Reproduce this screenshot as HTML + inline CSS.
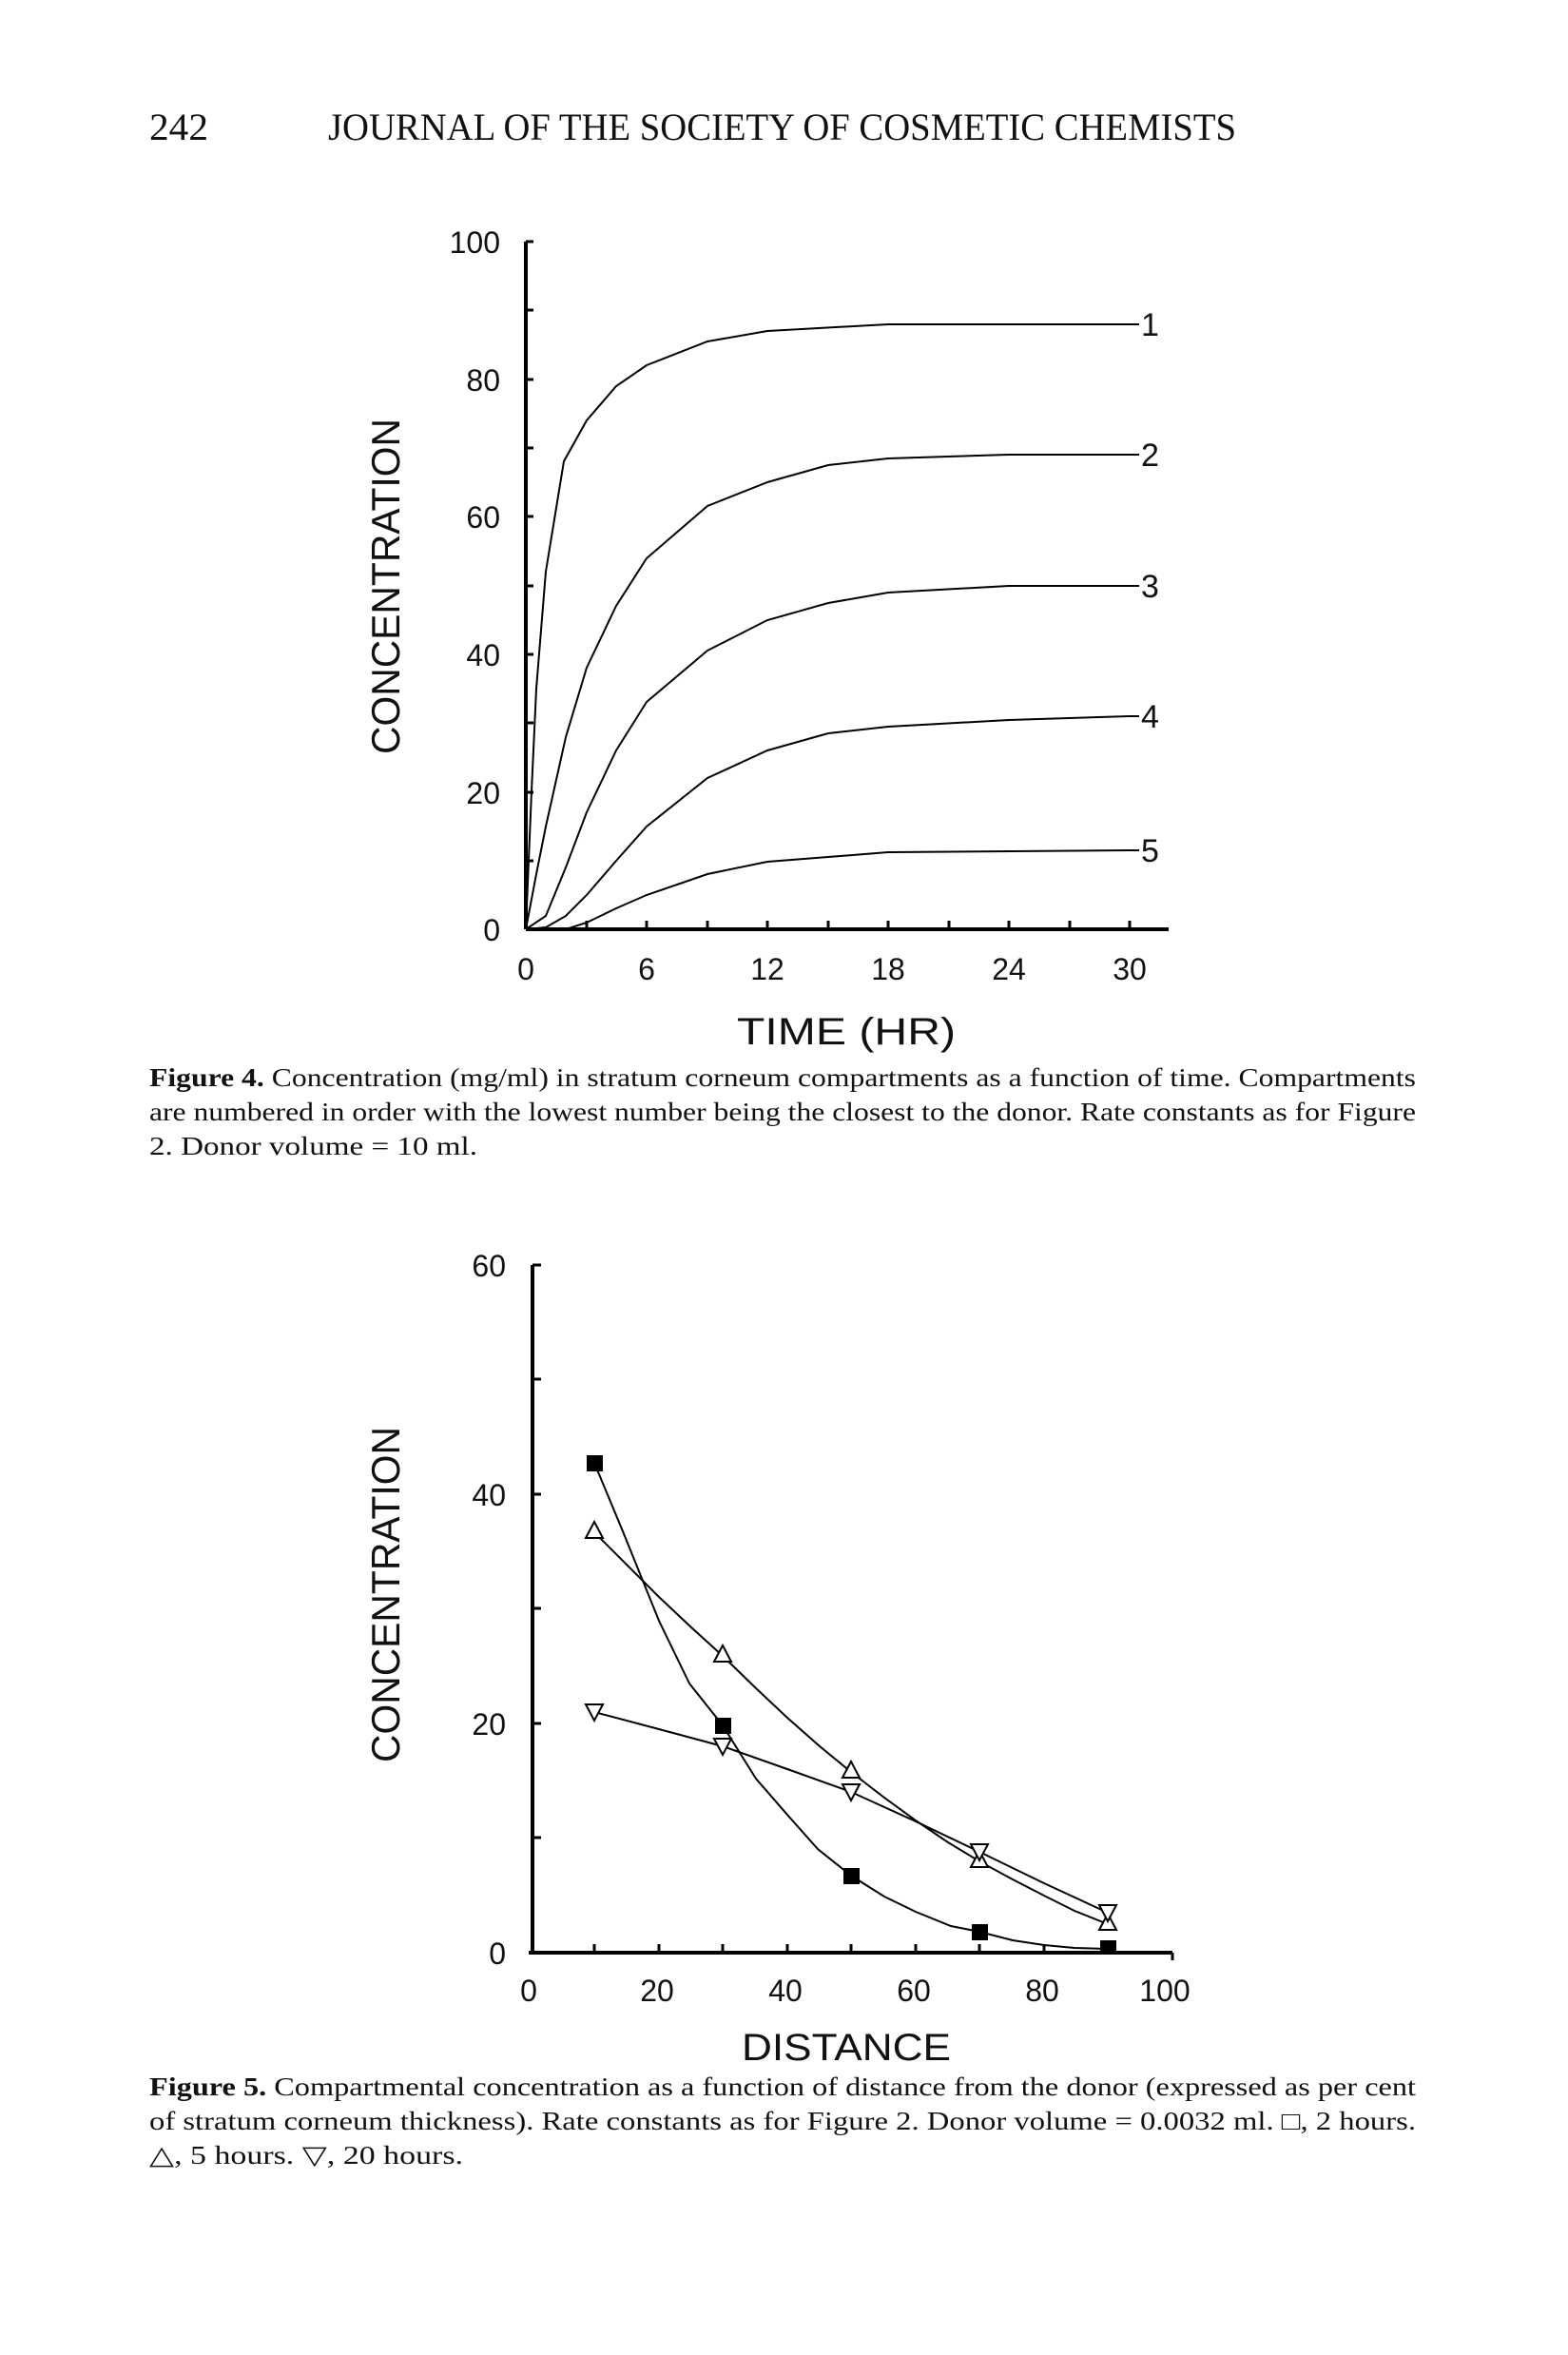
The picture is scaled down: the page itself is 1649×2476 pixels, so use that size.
<!DOCTYPE html>
<html><head><meta charset="utf-8"><style>
html,body{margin:0;padding:0;background:#fff;}
svg{display:block;}
.ser{font-family:"Liberation Serif",serif;fill:#111;}
.pl{font-family:"Liberation Sans",sans-serif;fill:#111;}
</style></head><body>
<svg width="1649" height="2476" viewBox="0 0 1649 2476" xmlns="http://www.w3.org/2000/svg">
<rect width="1649" height="2476" fill="#fff"/>
<text class="ser" x="157" y="147" font-size="40" textLength="62" lengthAdjust="spacingAndGlyphs">242</text>
<text class="ser" x="345" y="147" font-size="40" textLength="955" lengthAdjust="spacingAndGlyphs">JOURNAL OF THE SOCIETY OF COSMETIC CHEMISTS</text>

<g id="fig4" stroke="#000" fill="none">
<line x1="553" y1="254" x2="553" y2="977" stroke-width="4"/>
<line x1="553" y1="977" x2="1229" y2="977" stroke-width="4"/>
<path stroke-width="3" d="M553 254h8 M553 326h8 M553 399h8 M553 471h8 M553 543h8 M553 616h8 M553 688h8 M553 760h8 M553 833h8 M553 905h8
M617 977v-9 M680 977v-9 M744 977v-9 M807 977v-9 M871 977v-9 M934 977v-9 M998 977v-9 M1061 977v-9 M1125 977v-9 M1188 977v-9"/>
<g stroke-width="2">
<polyline points="553,977 559,832 564,724 574,601 593,485 617,442 648,406 680,384 744,359 807,348 934,341 1188,341 1198,341"/>
<polyline points="553,977 564,919 574,869 595,775 617,702 648,637 680,587 744,532 807,507 871,489 934,482 1061,478 1188,478 1198,478"/>
<polyline points="553,977 574,963 595,912 617,854 648,789 680,738 744,684 807,652 871,634 934,623 1061,616 1188,616 1198,616"/>
<polyline points="553,977 574,975 595,963 617,941 648,905 680,869 744,818 807,789 871,771 934,764 1061,757 1188,753 1198,753"/>
<polyline points="553,977 595,977 617,970 648,955 680,941 744,919 807,906 871,901 934,896 1188,894 1198,894"/>
</g>
</g>
<g class="pl" font-size="32" text-anchor="end">
<text x="526" y="266">100</text><text x="526" y="411">80</text><text x="526" y="555">60</text>
<text x="526" y="700">40</text><text x="526" y="845">20</text><text x="526" y="989">0</text>
</g>
<g class="pl" font-size="32" text-anchor="middle">
<text x="553" y="1030">0</text><text x="680" y="1030">6</text><text x="807" y="1030">12</text>
<text x="934" y="1030">18</text><text x="1061" y="1030">24</text><text x="1188" y="1030">30</text>
</g>
<g class="pl" font-size="34">
<text x="1200" y="353">1</text><text x="1200" y="490">2</text><text x="1200" y="628">3</text><text x="1200" y="765">4</text><text x="1200" y="906">5</text>
</g>
<text class="pl" x="890" y="1098" font-size="40" text-anchor="middle" textLength="230" lengthAdjust="spacingAndGlyphs">TIME (HR)</text>
<text class="pl" font-size="42" transform="translate(420,793) rotate(-90)" textLength="353" lengthAdjust="spacingAndGlyphs">CONCENTRATION</text>
<g class="ser" font-size="27">
<text x="157" y="1142" textLength="1332" lengthAdjust="spacingAndGlyphs"><tspan font-weight="bold">Figure 4.</tspan> Concentration (mg/ml) in stratum corneum compartments as a function of time. Compartments</text>
<text x="157" y="1178" textLength="1332" lengthAdjust="spacingAndGlyphs">are numbered in order with the lowest number being the closest to the donor. Rate constants as for Figure</text>
<text x="157" y="1214" textLength="345" lengthAdjust="spacingAndGlyphs">2. Donor volume = 10 ml.</text>
</g>

<g id="fig5" stroke="#000" fill="none">
<line x1="560" y1="1330" x2="560" y2="2053" stroke-width="4"/>
<line x1="556" y1="2053" x2="1233" y2="2053" stroke-width="4"/>
<path stroke-width="3" d="M560 1330h9 M560 1450h9 M560 1571h9 M560 1691h9 M560 1812h9 M560 1932h9
M625 2053v-9 M693 2053v-9 M760 2053v-9 M828 2053v-9 M895 2053v-9 M963 2053v-9 M1030 2053v-9 M1098 2053v-9 M1165 2053v-9 M1233 2053v8"/>
<g stroke-width="2">
<polyline points="625,1538 655,1610 693,1704 725,1770 760,1814 795,1870 828,1908 860,1944 895,1972 930,1994 963,2010 1000,2025 1030,2031 1065,2040 1098,2045 1130,2048 1165,2049"/>
<polyline points="625,1611 660,1646 693,1679 727,1711 760,1741 795,1775 828,1806 862,1836 895,1863 930,1890 963,1914 997,1937 1030,1957 1065,1976 1098,1993 1130,2009 1165,2023"/>
<polyline points="625,1800 693,1818 760,1836 828,1860 895,1884 963,1915 1030,1947 1098,1980 1165,2011"/>
</g>
</g>
<g fill="#000">
<rect x="617" y="1530" width="17" height="17"/>
<rect x="752" y="1806" width="17" height="17"/>
<rect x="887" y="1964" width="17" height="17"/>
<rect x="1022" y="2023" width="17" height="17"/>
<rect x="1157" y="2040" width="17" height="15"/>
</g>
<g fill="#fff" stroke="#000" stroke-width="2">
<path d="M625 1600 l-9 17 h18z M760 1730 l-9 17 h18z M895 1852 l-9 17 h18z M1030 1946 l-9 17 h18z M1165 2012 l-9 17 h18z"/>
<path d="M616 1792 h18 l-9 17z M751 1828 h18 l-9 17z M886 1876 h18 l-9 17z M1021 1939 h18 l-9 17z M1156 2003 h18 l-9 17z"/>
</g>
<g class="pl" font-size="32" text-anchor="end">
<text x="532" y="1342">60</text><text x="532" y="1583">40</text><text x="532" y="1824">20</text><text x="532" y="2065">0</text>
</g>
<g class="pl" font-size="32" text-anchor="middle">
<text x="556" y="2104">0</text><text x="691" y="2104">20</text><text x="826" y="2104">40</text>
<text x="961" y="2104">60</text><text x="1096" y="2104">80</text><text x="1225" y="2104">100</text>
</g>
<text class="pl" x="890" y="2166" font-size="40" text-anchor="middle" textLength="220" lengthAdjust="spacingAndGlyphs">DISTANCE</text>
<text class="pl" font-size="42" transform="translate(420,1853) rotate(-90)" textLength="353" lengthAdjust="spacingAndGlyphs">CONCENTRATION</text>
<g class="ser" font-size="27">
<text x="157" y="2203" textLength="1332" lengthAdjust="spacingAndGlyphs"><tspan font-weight="bold">Figure 5.</tspan> Compartmental concentration as a function of distance from the donor (expressed as per cent</text>
<text x="157" y="2239" textLength="1332" lengthAdjust="spacingAndGlyphs">of stratum corneum thickness). Rate constants as for Figure 2. Donor volume = 0.0032 ml. □, 2 hours.</text>
<text x="157" y="2275" textLength="330" lengthAdjust="spacingAndGlyphs">△, 5 hours. ▽, 20 hours.</text>
</g>
</svg>
</body></html>
